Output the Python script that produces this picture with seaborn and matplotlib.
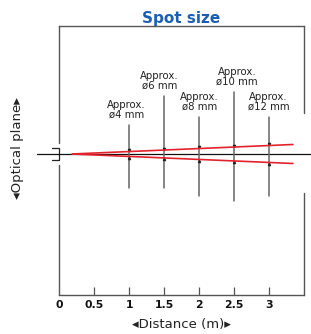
"""
Spot size diagram: laser beam spread over distance
"""

import matplotlib
matplotlib.use("Agg")
import matplotlib.pyplot as plt
import seaborn as sns

sns.set_style("white")
plt.rcParams['font.family'] = ['DejaVu Sans']

# ========== data ==========
tick_pos = [0, 0.5, 1, 1.5, 2, 2.5, 3]
tick_labels = ['0', '0.5', '1', '1.5', '2', '2.5', '3']

spot_dist = [1, 1.5, 2, 2.5, 3]
spot_labels = ['Approx.\nø4 mm', 'Approx.\nø6 mm', 'Approx.\nø8 mm',
               'Approx.\nø10 mm', 'Approx.\nø12 mm']
# label centre offsets (m)
label_shift = [-0.04, -0.07, 0, 0.04, -0.01]
# leader line extent (units above / below the optical axis)
leader_top = [29, 58, 37, 62, 37]
leader_bottom = [-34, -34, -42, -47, -42]

# beam edges (start point -> end point)
beam_x = [0.19, 3.34]
beam_half = [0, 9.5]
# ==========================

RED = '#e3232b'
GREY = '#555555'
LEAD = '#666666'
BLUE = '#1a5fb4'

fig = plt.figure(figsize=(3.11, 3.34), dpi=100)
ax = fig.add_axes([0.190, 0.117, 0.788, 0.805])
ax.set_xlim(0, 3.5)
ax.set_ylim(-141, 128)

for side in ['left', 'right']:
    ax.spines[side].set_visible(False)
for side in ['top', 'bottom']:
    ax.spines[side].set_color(GREY)
    ax.spines[side].set_linewidth(1.0)

# left spine with a gap for the sensor bracket, right spine with a gap for the beam
ax.plot([0, 0], [128, 11], color=GREY, lw=1.0, clip_on=False)
ax.plot([0, 0], [-11, -141], color=GREY, lw=1.0, clip_on=False)
ax.plot([-0.1, 0, 0, -0.1], [6, 6, -6, -6], color='#222222', lw=0.9, clip_on=False)
ax.plot([3.5, 3.5], [128, 41], color=GREY, lw=1.0, clip_on=False)
ax.plot([3.5, 3.5], [-39, -141], color=GREY, lw=1.0, clip_on=False)

# optical axis
ax.plot([-0.31, 3.6], [0, 0], color='#111111', lw=0.9, clip_on=False, zorder=2)

# beam
upper = [h for h in beam_half]
lower = [-h for h in beam_half]
sns.lineplot(x=beam_x, y=upper, color=RED, lw=1.2, ax=ax, zorder=4)
sns.lineplot(x=beam_x, y=lower, color=RED, lw=1.2, ax=ax, zorder=4)

# leader lines and labels
slope = beam_half[1] / (beam_x[1] - beam_x[0])
for d, lab, sh, top, bot in zip(spot_dist, spot_labels, label_shift,
                                leader_top, leader_bottom):
    ax.plot([d, d], [bot, top], color=LEAD, lw=1.1, zorder=3)
    edge = slope * (d - beam_x[0])
    ax.plot(d, edge + 1.5, marker='v', ms=1.6, color='#222222', zorder=3)
    ax.plot(d, -edge - 1.5, marker='^', ms=1.6, color='#222222', zorder=3)
    ax.text(d + sh, top + 5, lab, ha='center', va='bottom', fontsize=7.3,
            color='#222222', linespacing=1.05)

ax.set_xticks(tick_pos[1:])
ax.set_xticklabels([])
ax.set_yticks([])
ax.tick_params(axis='x', direction='in', length=6, width=0.9, color=GREY, bottom=True)
for p, l in zip(tick_pos, tick_labels):
    ax.text(p, -146, l, ha='center', va='top', fontsize=7.8, fontweight='bold',
            color='#111111')

ax.set_title('Spot size', fontsize=11, fontweight='bold', color=BLUE, pad=1)
fig.text(0.584, 0.027, '◂Distance (m)▸', ha='center', va='center', fontsize=9.5,
         color='#222222')
fig.text(0.056, 0.557, '◂Optical plane▸', ha='center', va='center', fontsize=9.5,
         color='#222222', rotation=90)

plt.savefig('out.png', dpi=100)
plt.close()
